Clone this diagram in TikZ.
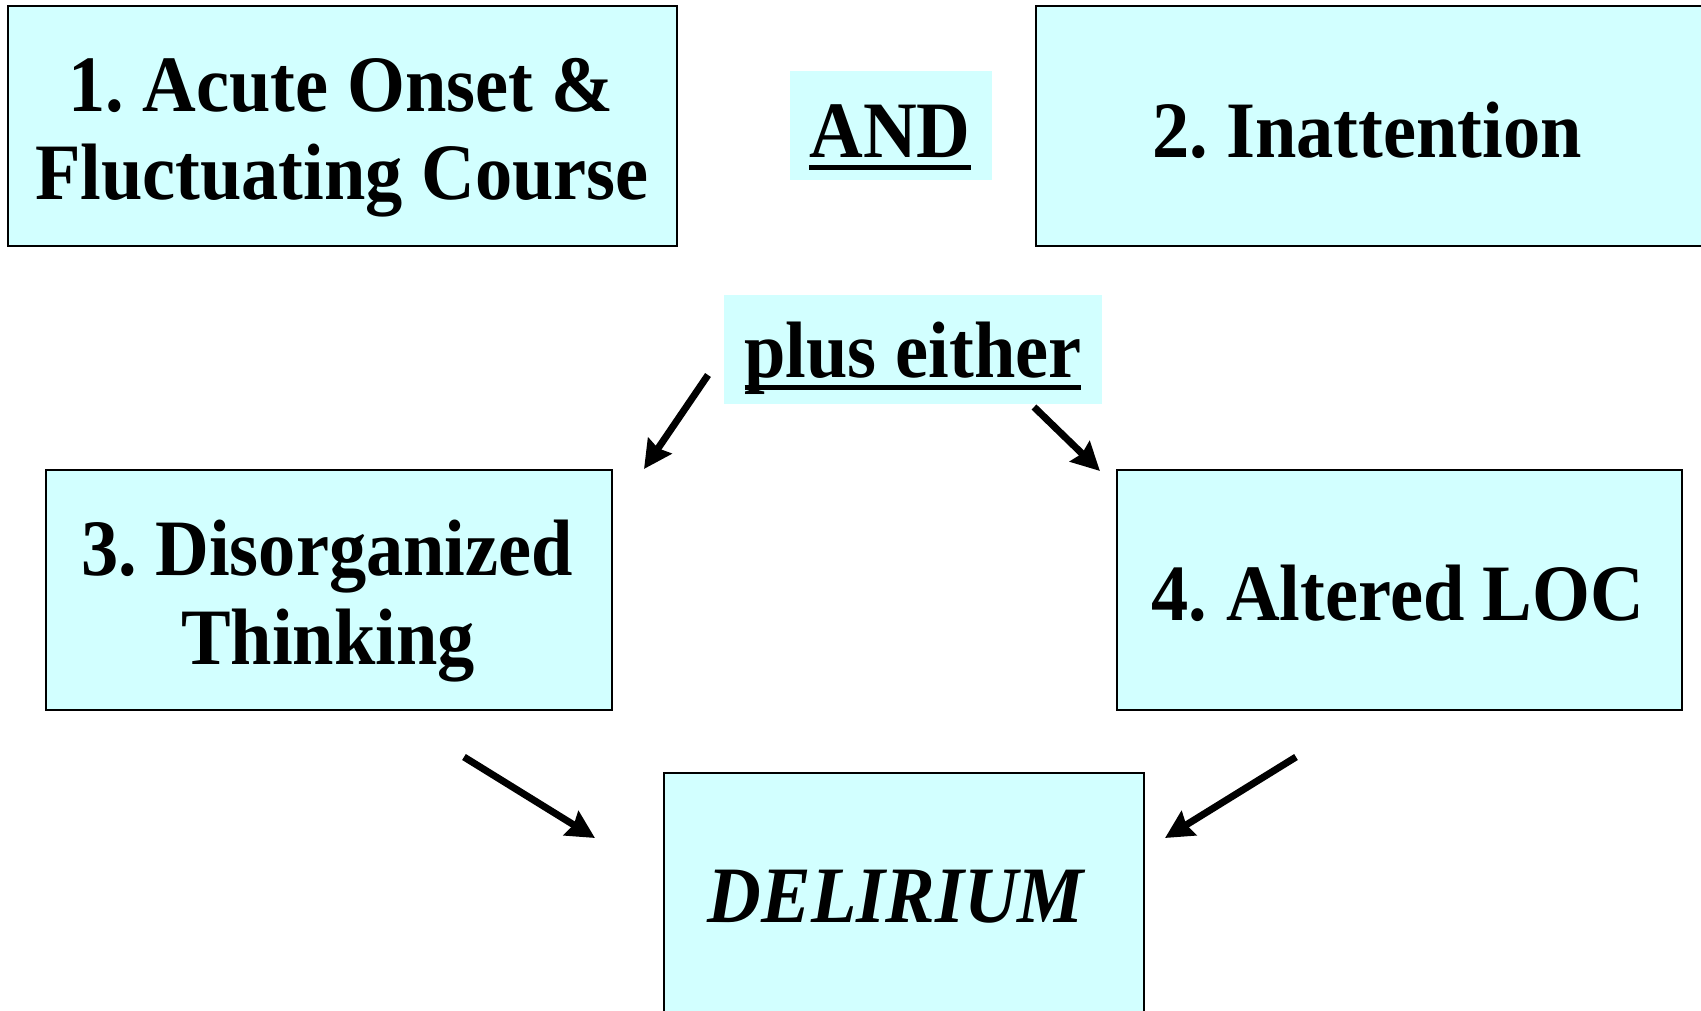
\documentclass[tikz,border=0pt]{standalone}
\usepackage{fontspec}
\setmainfont{Liberation Serif}[FakeStretch=0.93]
\usetikzlibrary{arrows.meta}
\definecolor{boxfill}{HTML}{D2FFFF}
\frenchspacing
\newcommand\myul[1]{\setbox0=\hbox{#1}\leavevmode\rlap{\rule[-13pt]{\wd0}{5pt}}\box0}
\begin{document}
\begin{tikzpicture}[x=1pt,y=-1pt,
  box/.style={draw=black,line width=2pt,fill=boxfill,rectangle,inner sep=0pt},
  tag/.style={fill=boxfill,rectangle,inner sep=0pt},
  txt/.style={inner sep=0pt,anchor=base,font=\fontsize{80}{89}\selectfont\bfseries},
  conn/.style={line width=7pt,-{Stealth[length=28pt,width=28pt,inset=3pt]}}]
\useasboundingbox (0,0) rectangle (1701,1010);
\begin{scope}
\clip (0,0) rectangle (1701,1010);
\node[box,minimum width=669pt,minimum height=240pt] (b1) at (342,126) {};
\node[box,minimum width=700pt,minimum height=240pt] (b2) at (1386,126) {};
\node[tag,minimum width=202pt,minimum height=109pt] (and) at (891,125) {};
\node[tag,minimum width=378pt,minimum height=109pt] (pe) at (913,349) {};
\node[box,minimum width=566pt,minimum height=240pt] (b3) at (329,590) {};
\node[box,minimum width=565pt,minimum height=240pt] (b4) at (1399,590) {};
\node[box,minimum width=480pt,minimum height=280pt] (del) at (904,913) {};
\end{scope}
\node[txt] (b1l1) at (341,111) {1. Acute Onset \&};
\node[txt] (b1l2) at (342,199) {Fluctuating Course};
\node[txt] (b2t) at (1367,157) {2. Inattention};
\node[txt] (andt) at (890,157) {\myul{AND}};
\node[txt] (pet) at (913,377) {\myul{plus either}};
\node[txt] (b3l1) at (327,575) {3. Disorganized};
\node[txt] (b3l2) at (328,664) {Thinking};
\node[txt] (b4t) at (1398,620) {4. Altered LOC};
\node[txt,font=\fontsize{80}{89}\selectfont\bfseries\itshape] (delt) at (896,922) {DELIRIUM};
\coordinate (a1s) at (708,375);
\coordinate (a1e) at (644,469);
\coordinate (a2s) at (1034,407);
\coordinate (a2e) at (1100,471);
\coordinate (a3s) at (464,757);
\coordinate (a3e) at (595,838);
\coordinate (a4s) at (1296,757);
\coordinate (a4e) at (1165,838);
\draw[conn] (a1s) -- (a1e);
\draw[conn] (a2s) -- (a2e);
\draw[conn] (a3s) -- (a3e);
\draw[conn] (a4s) -- (a4e);
\end{tikzpicture}
\end{document}
